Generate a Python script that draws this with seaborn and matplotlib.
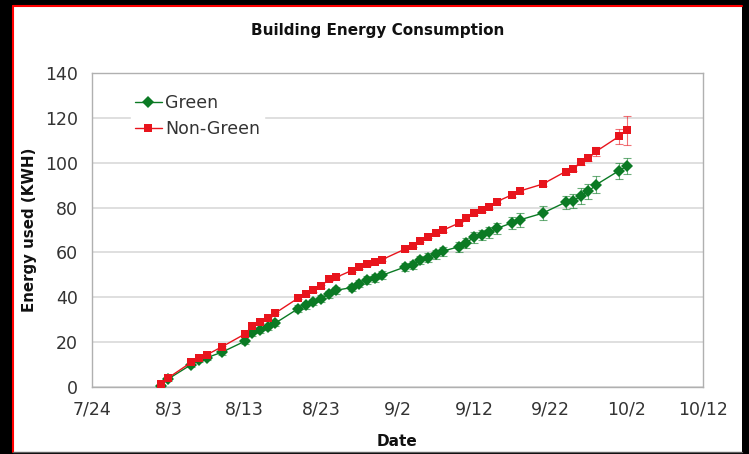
# ========== Libraries ==========

import matplotlib
matplotlib.use("Agg")
import matplotlib.pyplot as plt
from matplotlib.patches import Rectangle
from matplotlib.lines import Line2D
import pandas as pd
import seaborn as sns


# ========== Data ==========

dates = ["8/2", "8/3", "8/6", "8/7", "8/8", "8/10", "8/13", "8/14", "8/15", "8/16",
         "8/17", "8/20", "8/21", "8/22", "8/23", "8/24", "8/25", "8/27", "8/28", "8/29",
         "8/30", "8/31", "9/3", "9/4", "9/5", "9/6", "9/7", "9/8", "9/10", "9/11",
         "9/12", "9/13", "9/14", "9/15", "9/17", "9/18", "9/21", "9/24", "9/25", "9/26",
         "9/27", "9/28", "10/1", "10/2"]

green_kwh = [0.5, 3.5, 9.9, 12.0, 12.9, 15.4, 20.3, 23.9, 25.4, 26.5,
             28.4, 34.9, 36.3, 37.8, 39.3, 41.3, 43.1, 44.3, 46.1, 47.6,
             48.5, 49.8, 53.5, 54.3, 56.5, 57.7, 59.2, 60.6, 62.5, 64.3,
             66.7, 67.7, 69.0, 70.7, 73.2, 74.5, 77.5, 82.4, 83.0, 85.2,
             87.2, 90.2, 96.5, 98.4]
green_err = [0.6, 0.8, 1.0, 1.0, 1.0, 1.1, 1.2, 1.2, 1.3, 1.3,
             1.3, 1.4, 1.4, 1.5, 1.5, 1.5, 1.6, 1.6, 1.6, 1.7,
             1.7, 1.7, 1.8, 1.8, 1.9, 1.9, 2.0, 2.0, 2.2, 2.2,
             2.3, 2.3, 2.4, 2.5, 2.8, 3.0, 3.1, 2.8, 3.0, 3.4,
             3.4, 3.7, 3.6, 3.6]

nongreen_kwh = [1.0, 4.0, 10.9, 12.9, 14.2, 17.8, 23.5, 27.0, 28.8, 30.8,
                32.9, 39.6, 41.6, 43.1, 44.9, 48.0, 48.9, 51.9, 53.3, 54.7,
                55.8, 56.8, 61.5, 62.9, 65.2, 67.0, 68.5, 70.0, 73.0, 75.4,
                77.5, 79.0, 80.4, 82.7, 85.7, 87.4, 90.5, 96.1, 97.4, 100.4,
                102.2, 105.1, 111.8, 114.5]
nongreen_err = [0.4, 0.4, 0.5, 0.5, 0.5, 0.5, 0.5, 0.5, 0.5, 0.5,
                0.5, 0.6, 0.6, 0.6, 0.6, 0.6, 0.6, 0.6, 0.6, 0.6,
                0.6, 0.6, 0.7, 0.7, 0.7, 0.7, 0.7, 0.7, 0.7, 0.7,
                0.8, 0.8, 0.8, 0.8, 0.8, 0.8, 0.9, 0.9, 1.0, 1.2,
                1.5, 2.2, 3.5, 6.6]

x_tick_labels = ["7/24", "8/3", "8/13", "8/23", "9/2", "9/12", "9/22", "10/2", "10/12"]
y_ticks = [0, 20, 40, 60, 80, 100, 120, 140]

GREEN = "#0b7a24"
RED = "#e8141c"


def to_dt(labels):
    return pd.to_datetime(["2008/" + d for d in labels], format="%Y/%m/%d")


# ---------- Long table for seaborn ----------

dt = to_dt(dates)
df = pd.concat([
    pd.DataFrame({"date": dt, "kwh": green_kwh, "group": "Green"}),
    pd.DataFrame({"date": dt, "kwh": nongreen_kwh, "group": "Non-Green"}),
], ignore_index=True)


# ========== Plot ==========

sns.set_style("white")
plt.rcParams["font.family"] = ["DejaVu Sans"]

fig = plt.figure(figsize=(7.49, 4.54), dpi=100)
fig.patch.set_facecolor("black")

# white panel with a red edge on top / left (screenshot frame)
W, H = 749, 454
fig.patches.append(Rectangle((13 / W, 2 / H), (742 - 13) / W, (448 - 2) / H,
                             transform=fig.transFigure, facecolor="white",
                             edgecolor="none", zorder=-10))
fig.lines.append(Line2D([13 / W, 742 / W], [448 / H, 448 / H], transform=fig.transFigure,
                        color="#ff0000", lw=1.5))
fig.lines.append(Line2D([13 / W, 13 / W], [2 / H, 448 / H], transform=fig.transFigure,
                        color="#ff0000", lw=1.5))
fig.lines.append(Line2D([13 / W, 742 / W], [2.5 / H, 2.5 / H], transform=fig.transFigure,
                        color="#606060", lw=1.0))

ax = fig.add_axes([92 / W, (454 - 386.7) / H, 611 / W, 313.4 / H])

# error bars first so the markers sit on top
ax.errorbar(dt, green_kwh, yerr=green_err, fmt="none", ecolor=GREEN,
            elinewidth=0.8, capsize=3, capthick=0.8, alpha=0.6, zorder=2)
ax.errorbar(dt, nongreen_kwh, yerr=nongreen_err, fmt="none", ecolor=RED,
            elinewidth=0.8, capsize=3, capthick=0.8, alpha=0.6, zorder=2)

sns.lineplot(data=df, x="date", y="kwh", hue="group", style="group",
             palette={"Green": GREEN, "Non-Green": RED},
             markers={"Green": "D", "Non-Green": "s"}, dashes=False,
             markersize=5.2, markeredgewidth=0, linewidth=1.0, ax=ax, zorder=3)

# diamonds look a bit bigger than the squares in the original
for line in ax.lines:
    if line.get_marker() == "D":
        line.set_markersize(6.2)

# ---------- Axes styling ----------

ax.set_xlim(to_dt(["7/24"])[0], to_dt(["10/12"])[0])
ax.set_xticks(to_dt(x_tick_labels))
ax.set_xticklabels(x_tick_labels)
ax.set_ylim(0, 140)
ax.set_yticks(y_ticks)

ax.yaxis.grid(True, color="#dcdcdc", lw=1.3)
ax.xaxis.grid(False)
for spine in ax.spines.values():
    spine.set_color("#b0b0b0")
    spine.set_linewidth(1.0)
ax.tick_params(axis="both", colors="#b0b0b0", labelcolor="#333333",
               labelsize=12.5, length=4, width=1, direction="out")
ax.tick_params(axis="x", pad=6)
ax.tick_params(axis="y", pad=6)

ax.set_xlabel("Date", fontsize=11, fontweight="bold", labelpad=11, color="#111111")
ax.set_ylabel("Energy used (KWH)", fontsize=10.8, fontweight="bold", labelpad=5.5,
              color="#111111")
fig.text(0.5 * (13 + 742) / W, (454 - 30) / H, "Building Energy Consumption",
         ha="center", va="center", fontsize=11, fontweight="bold", color="#111111")

handles, labels = ax.get_legend_handles_labels()
ax.legend(handles, labels, loc="upper left", bbox_to_anchor=(0.05, 0.972),
          frameon=True, facecolor="white", edgecolor="white", framealpha=1,
          fontsize=12.5, handlelength=1.55, handletextpad=0.2, borderpad=0.2,
          labelspacing=0.45, labelcolor="#333333")

fig.savefig("out.png", dpi=100, facecolor=fig.get_facecolor())
